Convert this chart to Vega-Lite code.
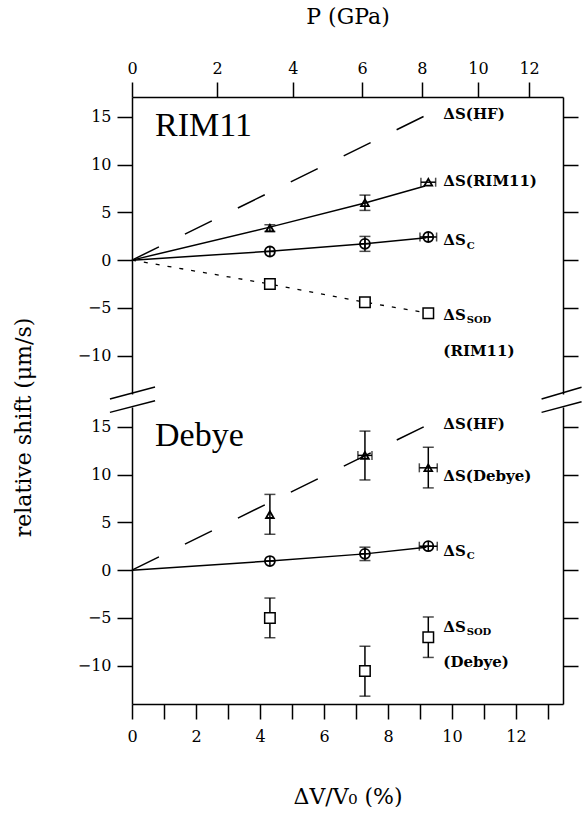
{
  "$schema": "https://vega.github.io/schema/vega-lite/v6.json",
  "autosize": {"type": "pad"},
  "padding": {"left": 12, "top": 5, "right": 0, "bottom": 0},
  "background": "white",
  "spacing": 13,
  "bounds": "flush",
  "config": {
    "view": {"stroke": null},
    "axis": {"grid": false, "domainColor": "black", "domainWidth": 1.5, "tickColor": "black", "tickWidth": 1.5, "tickSize": 15, "labelColor": "black", "labelFont": "DejaVu Serif", "labelFontSize": 16, "labelFlush": false, "labelOverlap": false, "titleFont": "DejaVu Serif", "titleFontSize": 22, "titleFontWeight": "normal", "titleColor": "black"},
    "text": {"font": "DejaVu Serif", "color": "black"}
  },
  "datasets": {
    "lines": [
      {"panel": "RIM11", "id": "hf", "x": 0, "y": 0}, {"panel": "RIM11", "id": "hf", "x": 9.16, "y": 15.1},
      {"panel": "RIM11", "id": "rim", "x": 0, "y": 0}, {"panel": "RIM11", "id": "rim", "x": 4.31, "y": 3.45}, {"panel": "RIM11", "id": "rim", "x": 7.28, "y": 5.98}, {"panel": "RIM11", "id": "rim", "x": 9.16, "y": 7.75},
      {"panel": "RIM11", "id": "c", "x": 0, "y": 0}, {"panel": "RIM11", "id": "c", "x": 4.31, "y": 0.93}, {"panel": "RIM11", "id": "c", "x": 7.28, "y": 1.72}, {"panel": "RIM11", "id": "c", "x": 9.2, "y": 2.35},
      {"panel": "RIM11", "id": "sod", "x": 0, "y": 0}, {"panel": "RIM11", "id": "sod", "x": 4.31, "y": -2.5}, {"panel": "RIM11", "id": "sod", "x": 7.28, "y": -4.4}, {"panel": "RIM11", "id": "sod", "x": 9.26, "y": -5.55},
      {"panel": "Debye", "id": "hf", "x": 0, "y": 0}, {"panel": "Debye", "id": "hf", "x": 9.16, "y": 15.06},
      {"panel": "Debye", "id": "c", "x": 0, "y": 0}, {"panel": "Debye", "id": "c", "x": 4.31, "y": 0.95}, {"panel": "Debye", "id": "c", "x": 7.28, "y": 1.7}, {"panel": "Debye", "id": "c", "x": 9.2, "y": 2.4}
    ],
    "pts": [
      {"panel": "RIM11", "s": "tri", "x": 4.31, "y": 3.35}, {"panel": "RIM11", "s": "tri", "x": 7.28, "y": 6.0}, {"panel": "RIM11", "s": "tri", "x": 9.26, "y": 8.15},
      {"panel": "RIM11", "s": "circ", "x": 4.31, "y": 0.9}, {"panel": "RIM11", "s": "circ", "x": 7.28, "y": 1.7}, {"panel": "RIM11", "s": "circ", "x": 9.26, "y": 2.42},
      {"panel": "RIM11", "s": "sq", "x": 4.31, "y": -2.5}, {"panel": "RIM11", "s": "sq", "x": 7.28, "y": -4.4}, {"panel": "RIM11", "s": "sq", "x": 9.26, "y": -5.55},
      {"panel": "Debye", "s": "tri", "x": 4.31, "y": 5.8}, {"panel": "Debye", "s": "tri", "x": 7.28, "y": 12.0}, {"panel": "Debye", "s": "tri", "x": 9.26, "y": 10.7},
      {"panel": "Debye", "s": "circ", "x": 4.31, "y": 0.95}, {"panel": "Debye", "s": "circ", "x": 7.28, "y": 1.7}, {"panel": "Debye", "s": "circ", "x": 9.26, "y": 2.5},
      {"panel": "Debye", "s": "sq", "x": 4.31, "y": -5.0}, {"panel": "Debye", "s": "sq", "x": 7.28, "y": -10.55}, {"panel": "Debye", "s": "sq", "x": 9.26, "y": -7.02}
    ],
    "verr": [
      {"panel": "RIM11", "x": 4.31, "lo": 3.0, "hi": 3.7},
      {"panel": "RIM11", "x": 7.28, "lo": 5.2, "hi": 6.8},
      {"panel": "RIM11", "x": 7.28, "lo": 0.92, "hi": 2.48},
      {"panel": "Debye", "x": 4.31, "lo": 3.75, "hi": 7.92},
      {"panel": "Debye", "x": 7.28, "lo": 9.43, "hi": 14.54},
      {"panel": "Debye", "x": 9.26, "lo": 8.6, "hi": 12.85},
      {"panel": "Debye", "x": 7.28, "lo": 1.0, "hi": 2.4},
      {"panel": "Debye", "x": 4.31, "lo": -7.07, "hi": -2.92},
      {"panel": "Debye", "x": 7.28, "lo": -13.18, "hi": -7.96},
      {"panel": "Debye", "x": 9.26, "lo": -9.13, "hi": -4.9}
    ],
    "herr": [
      {"panel": "RIM11", "y": 8.15, "lo": 9.03, "hi": 9.49},
      {"panel": "RIM11", "y": 2.42, "lo": 9.0, "hi": 9.52},
      {"panel": "Debye", "y": 12.0, "lo": 7.06, "hi": 7.5},
      {"panel": "Debye", "y": 10.7, "lo": 8.98, "hi": 9.54},
      {"panel": "Debye", "y": 2.5, "lo": 8.98, "hi": 9.54}
    ],
    "labels": [
      {"panel": "RIM11", "kind": "lab", "x": 9.73, "y": 15.24, "t": "ΔS(HF)"},
      {"panel": "RIM11", "kind": "lab", "x": 9.73, "y": 8.25, "t": "ΔS(RIM11)"},
      {"panel": "RIM11", "kind": "lab", "x": 9.73, "y": 2.09, "t": "ΔS"},
      {"panel": "RIM11", "kind": "sub", "x": 10.46, "y": 1.5, "t": "C"},
      {"panel": "RIM11", "kind": "lab", "x": 9.73, "y": -5.74, "t": "ΔS"},
      {"panel": "RIM11", "kind": "sub", "x": 10.46, "y": -6.25, "t": "SOD"},
      {"panel": "RIM11", "kind": "lab", "x": 9.73, "y": -9.47, "t": "(RIM11)"},
      {"panel": "RIM11", "kind": "big", "x": 0.72, "y": 12.95, "t": "RIM11"},
      {"panel": "Debye", "kind": "lab", "x": 9.73, "y": 15.24, "t": "ΔS(HF)"},
      {"panel": "Debye", "kind": "lab", "x": 9.73, "y": 9.85, "t": "ΔS(Debye)"},
      {"panel": "Debye", "kind": "lab", "x": 9.73, "y": 2.02, "t": "ΔS"},
      {"panel": "Debye", "kind": "sub", "x": 10.46, "y": 1.43, "t": "C"},
      {"panel": "Debye", "kind": "lab", "x": 9.73, "y": -5.98, "t": "ΔS"},
      {"panel": "Debye", "kind": "sub", "x": 10.46, "y": -6.49, "t": "SOD"},
      {"panel": "Debye", "kind": "lab", "x": 9.73, "y": -9.57, "t": "(Debye)"},
      {"panel": "Debye", "kind": "big", "x": 0.72, "y": 12.95, "t": "Debye"}
    ],
    "breaks": [
      {"x": -0.69, "y": 17.9, "x2": 0.72, "y2": 19.15},
      {"x": -0.69, "y": 16.5, "x2": 0.72, "y2": 17.72},
      {"x": 12.8, "y": 17.9, "x2": 14.05, "y2": 19.12},
      {"x": 12.8, "y": 16.5, "x2": 14.05, "y2": 17.6}
    ]
  },
  "vconcat": [
    {
      "width": 431,
      "height": 297,
      "resolve": {"axis": {"x": "independent", "y": "independent"}},
      "layer": [
        {
          "data": {"name": "lines"},
          "transform": [{"filter": "datum.panel === 'RIM11' && (datum.id === 'rim' || datum.id === 'c')"}],
          "mark": {"type": "line", "color": "black", "strokeWidth": 1.5},
          "encoding": {
            "x": {"field": "x", "type": "quantitative", "scale": {"domain": [0, 13.47], "nice": false, "zero": false},
                  "axis": {"orient": "top", "values": [0, 2.66, 5.03, 7.19, 9.06, 10.81, 12.41], "labelExpr": "indexof([0, 2.66, 5.03, 7.19, 9.06, 10.81, 12.41], datum.value) * 2", "title": "P (GPa)", "labelPadding": 6, "titlePadding": 32}},
            "y": {"field": "y", "type": "quantitative", "scale": {"domain": [-14, 17.06], "nice": false, "zero": false},
                  "axis": {"orient": "left", "values": [-10, -5, 0, 5, 10, 15], "title": null, "labelPadding": 6}},
            "detail": {"field": "id"}
          }
        },
        {
          "data": {"name": "lines"},
          "transform": [{"filter": "datum.panel === 'RIM11' && datum.id === 'hf'"}],
          "mark": {"type": "line", "color": "black", "strokeWidth": 1.5, "strokeDash": [30, 29]},
          "encoding": {
            "x": {"field": "x", "type": "quantitative", "axis": null},
            "y": {"field": "y", "type": "quantitative", "axis": {"orient": "right", "values": [-10, -5, 0, 5, 10, 15], "labels": false, "title": null}}
          }
        },
        {
          "data": {"name": "lines"},
          "transform": [{"filter": "datum.panel === 'RIM11' && datum.id === 'sod'"}],
          "mark": {"type": "line", "color": "black", "strokeWidth": 1.3, "strokeDash": [4, 8]},
          "encoding": {
            "x": {"field": "x", "type": "quantitative", "axis": null},
            "y": {"field": "y", "type": "quantitative", "axis": null}
          }
        },
        {
          "data": {"name": "verr"},
          "transform": [{"filter": "datum.panel === 'RIM11'"}],
          "mark": {"type": "rule", "color": "black", "strokeWidth": 1.5},
          "encoding": {
            "x": {"field": "x", "type": "quantitative", "axis": null},
            "y": {"field": "lo", "type": "quantitative", "axis": null},
            "y2": {"field": "hi"}
          }
        },
        {
          "data": {"name": "verr"},
          "transform": [{"filter": "datum.panel === 'RIM11'"}],
          "mark": {"type": "tick", "orient": "horizontal", "color": "black", "size": 11, "thickness": 1.5},
          "encoding": {
            "x": {"field": "x", "type": "quantitative", "axis": null},
            "y": {"field": "lo", "type": "quantitative", "axis": null}
          }
        },
        {
          "data": {"name": "verr"},
          "transform": [{"filter": "datum.panel === 'RIM11'"}],
          "mark": {"type": "tick", "orient": "horizontal", "color": "black", "size": 11, "thickness": 1.5},
          "encoding": {
            "x": {"field": "x", "type": "quantitative", "axis": null},
            "y": {"field": "hi", "type": "quantitative", "axis": null}
          }
        },
        {
          "data": {"name": "herr"},
          "transform": [{"filter": "datum.panel === 'RIM11'"}],
          "mark": {"type": "rule", "color": "black", "strokeWidth": 1.5},
          "encoding": {
            "x": {"field": "lo", "type": "quantitative", "axis": null},
            "x2": {"field": "hi"},
            "y": {"field": "y", "type": "quantitative", "axis": null}
          }
        },
        {
          "data": {"name": "herr"},
          "transform": [{"filter": "datum.panel === 'RIM11'"}],
          "mark": {"type": "tick", "orient": "vertical", "color": "black", "size": 9, "thickness": 1.5},
          "encoding": {
            "x": {"field": "lo", "type": "quantitative", "axis": null},
            "y": {"field": "y", "type": "quantitative", "axis": null}
          }
        },
        {
          "data": {"name": "herr"},
          "transform": [{"filter": "datum.panel === 'RIM11'"}],
          "mark": {"type": "tick", "orient": "vertical", "color": "black", "size": 9, "thickness": 1.5},
          "encoding": {
            "x": {"field": "hi", "type": "quantitative", "axis": null},
            "y": {"field": "y", "type": "quantitative", "axis": null}
          }
        },
        {
          "data": {"name": "pts"},
          "transform": [{"filter": "datum.panel === 'RIM11' && datum.s === 'tri'"}],
          "mark": {"type": "point", "shape": "triangle-up", "filled": false, "color": "black", "strokeWidth": 1.8, "size": 60, "opacity": 1},
          "encoding": {
            "x": {"field": "x", "type": "quantitative", "axis": null},
            "y": {"field": "y", "type": "quantitative", "axis": null}
          }
        },
        {
          "data": {"name": "pts"},
          "transform": [{"filter": "datum.panel === 'RIM11' && datum.s === 'circ'"}],
          "mark": {"type": "point", "shape": "circle", "filled": false, "color": "black", "strokeWidth": 1.8, "size": 100, "opacity": 1},
          "encoding": {
            "x": {"field": "x", "type": "quantitative", "axis": null},
            "y": {"field": "y", "type": "quantitative", "axis": null}
          }
        },
        {
          "data": {"name": "pts"},
          "transform": [{"filter": "datum.panel === 'RIM11' && datum.s === 'circ'"}],
          "mark": {"type": "point", "shape": "M-1,0H1M0,-1V1", "filled": false, "color": "black", "strokeWidth": 1.5, "size": 100, "opacity": 1},
          "encoding": {
            "x": {"field": "x", "type": "quantitative", "axis": null},
            "y": {"field": "y", "type": "quantitative", "axis": null}
          }
        },
        {
          "data": {"name": "pts"},
          "transform": [{"filter": "datum.panel === 'RIM11' && datum.s === 'sq'"}],
          "mark": {"type": "point", "shape": "square", "filled": true, "fill": "white", "stroke": "black", "strokeWidth": 1.5, "size": 110, "opacity": 1},
          "encoding": {
            "x": {"field": "x", "type": "quantitative", "axis": null},
            "y": {"field": "y", "type": "quantitative", "axis": null}
          }
        },
        {
          "data": {"name": "labels"},
          "transform": [{"filter": "datum.panel === 'RIM11' && datum.kind === 'lab'"}],
          "mark": {"type": "text", "align": "left", "baseline": "middle", "fontSize": 15, "fontWeight": "bold"},
          "encoding": {
            "x": {"field": "x", "type": "quantitative", "axis": null},
            "y": {"field": "y", "type": "quantitative", "axis": null},
            "text": {"field": "t"}
          }
        },
        {
          "data": {"name": "labels"},
          "transform": [{"filter": "datum.panel === 'RIM11' && datum.kind === 'sub'"}],
          "mark": {"type": "text", "align": "left", "baseline": "middle", "fontSize": 10, "fontWeight": "bold"},
          "encoding": {
            "x": {"field": "x", "type": "quantitative", "axis": null},
            "y": {"field": "y", "type": "quantitative", "axis": null},
            "text": {"field": "t"}
          }
        },
        {
          "data": {"name": "labels"},
          "transform": [{"filter": "datum.panel === 'RIM11' && datum.kind === 'big'"}],
          "mark": {"type": "text", "align": "left", "baseline": "alphabetic", "fontSize": 34, "font": "Liberation Serif"},
          "encoding": {
            "x": {"field": "x", "type": "quantitative", "axis": null},
            "y": {"field": "y", "type": "quantitative", "axis": null},
            "text": {"field": "t"}
          }
        }
      ]
    },
    {
      "width": 431,
      "height": 297,
      "resolve": {"axis": {"x": "independent", "y": "independent"}},
      "layer": [
        {
          "data": {"name": "lines"},
          "transform": [{"filter": "datum.panel === 'Debye' && datum.id === 'c'"}],
          "mark": {"type": "line", "color": "black", "strokeWidth": 1.5},
          "encoding": {
            "x": {"field": "x", "type": "quantitative", "scale": {"domain": [0, 13.47], "nice": false, "zero": false},
                  "axis": {"orient": "bottom", "values": [0, 1, 2, 3, 4, 5, 6, 7, 8, 9, 10, 11, 12, 13], "labelExpr": "datum.value % 2 === 0 ? datum.label : ''", "title": "ΔV/V₀ (%)", "labelPadding": 9, "titlePadding": 42}},
            "y": {"field": "y", "type": "quantitative", "scale": {"domain": [-14, 17.06], "nice": false, "zero": false},
                  "axis": {"orient": "left", "values": [-10, -5, 0, 5, 10, 15], "title": "relative shift (μm/s)", "titleY": 20, "labelPadding": 6, "titlePadding": 42}}
          }
        },
        {
          "data": {"name": "lines"},
          "transform": [{"filter": "datum.panel === 'Debye' && datum.id === 'hf'"}],
          "mark": {"type": "line", "color": "black", "strokeWidth": 1.5, "strokeDash": [30, 29]},
          "encoding": {
            "x": {"field": "x", "type": "quantitative", "axis": null},
            "y": {"field": "y", "type": "quantitative", "axis": {"orient": "right", "values": [-10, -5, 0, 5, 10, 15], "labels": false, "title": null}}
          }
        },
        {
          "data": {"name": "breaks"},
          "mark": {"type": "rule", "color": "black", "strokeWidth": 1.5, "clip": false},
          "encoding": {
            "x": {"field": "x", "type": "quantitative", "axis": null},
            "y": {"field": "y", "type": "quantitative", "axis": null},
            "x2": {"field": "x2"},
            "y2": {"field": "y2"}
          }
        },
        {
          "data": {"name": "verr"},
          "transform": [{"filter": "datum.panel === 'Debye'"}],
          "mark": {"type": "rule", "color": "black", "strokeWidth": 1.5},
          "encoding": {
            "x": {"field": "x", "type": "quantitative", "axis": null},
            "y": {"field": "lo", "type": "quantitative", "axis": null},
            "y2": {"field": "hi"}
          }
        },
        {
          "data": {"name": "verr"},
          "transform": [{"filter": "datum.panel === 'Debye'"}],
          "mark": {"type": "tick", "orient": "horizontal", "color": "black", "size": 11, "thickness": 1.5},
          "encoding": {
            "x": {"field": "x", "type": "quantitative", "axis": null},
            "y": {"field": "lo", "type": "quantitative", "axis": null}
          }
        },
        {
          "data": {"name": "verr"},
          "transform": [{"filter": "datum.panel === 'Debye'"}],
          "mark": {"type": "tick", "orient": "horizontal", "color": "black", "size": 11, "thickness": 1.5},
          "encoding": {
            "x": {"field": "x", "type": "quantitative", "axis": null},
            "y": {"field": "hi", "type": "quantitative", "axis": null}
          }
        },
        {
          "data": {"name": "herr"},
          "transform": [{"filter": "datum.panel === 'Debye'"}],
          "mark": {"type": "rule", "color": "black", "strokeWidth": 1.5},
          "encoding": {
            "x": {"field": "lo", "type": "quantitative", "axis": null},
            "x2": {"field": "hi"},
            "y": {"field": "y", "type": "quantitative", "axis": null}
          }
        },
        {
          "data": {"name": "herr"},
          "transform": [{"filter": "datum.panel === 'Debye'"}],
          "mark": {"type": "tick", "orient": "vertical", "color": "black", "size": 9, "thickness": 1.5},
          "encoding": {
            "x": {"field": "lo", "type": "quantitative", "axis": null},
            "y": {"field": "y", "type": "quantitative", "axis": null}
          }
        },
        {
          "data": {"name": "herr"},
          "transform": [{"filter": "datum.panel === 'Debye'"}],
          "mark": {"type": "tick", "orient": "vertical", "color": "black", "size": 9, "thickness": 1.5},
          "encoding": {
            "x": {"field": "hi", "type": "quantitative", "axis": null},
            "y": {"field": "y", "type": "quantitative", "axis": null}
          }
        },
        {
          "data": {"name": "pts"},
          "transform": [{"filter": "datum.panel === 'Debye' && datum.s === 'tri'"}],
          "mark": {"type": "point", "shape": "triangle-up", "filled": false, "color": "black", "strokeWidth": 1.8, "size": 60, "opacity": 1},
          "encoding": {
            "x": {"field": "x", "type": "quantitative", "axis": null},
            "y": {"field": "y", "type": "quantitative", "axis": null}
          }
        },
        {
          "data": {"name": "pts"},
          "transform": [{"filter": "datum.panel === 'Debye' && datum.s === 'circ'"}],
          "mark": {"type": "point", "shape": "circle", "filled": false, "color": "black", "strokeWidth": 1.8, "size": 100, "opacity": 1},
          "encoding": {
            "x": {"field": "x", "type": "quantitative", "axis": null},
            "y": {"field": "y", "type": "quantitative", "axis": null}
          }
        },
        {
          "data": {"name": "pts"},
          "transform": [{"filter": "datum.panel === 'Debye' && datum.s === 'circ'"}],
          "mark": {"type": "point", "shape": "M-1,0H1M0,-1V1", "filled": false, "color": "black", "strokeWidth": 1.5, "size": 100, "opacity": 1},
          "encoding": {
            "x": {"field": "x", "type": "quantitative", "axis": null},
            "y": {"field": "y", "type": "quantitative", "axis": null}
          }
        },
        {
          "data": {"name": "pts"},
          "transform": [{"filter": "datum.panel === 'Debye' && datum.s === 'sq'"}],
          "mark": {"type": "point", "shape": "square", "filled": true, "fill": "white", "stroke": "black", "strokeWidth": 1.5, "size": 110, "opacity": 1},
          "encoding": {
            "x": {"field": "x", "type": "quantitative", "axis": null},
            "y": {"field": "y", "type": "quantitative", "axis": null}
          }
        },
        {
          "data": {"name": "labels"},
          "transform": [{"filter": "datum.panel === 'Debye' && datum.kind === 'lab'"}],
          "mark": {"type": "text", "align": "left", "baseline": "middle", "fontSize": 15, "fontWeight": "bold"},
          "encoding": {
            "x": {"field": "x", "type": "quantitative", "axis": null},
            "y": {"field": "y", "type": "quantitative", "axis": null},
            "text": {"field": "t"}
          }
        },
        {
          "data": {"name": "labels"},
          "transform": [{"filter": "datum.panel === 'Debye' && datum.kind === 'sub'"}],
          "mark": {"type": "text", "align": "left", "baseline": "middle", "fontSize": 10, "fontWeight": "bold"},
          "encoding": {
            "x": {"field": "x", "type": "quantitative", "axis": null},
            "y": {"field": "y", "type": "quantitative", "axis": null},
            "text": {"field": "t"}
          }
        },
        {
          "data": {"name": "labels"},
          "transform": [{"filter": "datum.panel === 'Debye' && datum.kind === 'big'"}],
          "mark": {"type": "text", "align": "left", "baseline": "alphabetic", "fontSize": 34, "font": "Liberation Serif"},
          "encoding": {
            "x": {"field": "x", "type": "quantitative", "axis": null},
            "y": {"field": "y", "type": "quantitative", "axis": null},
            "text": {"field": "t"}
          }
        }
      ]
    }
  ]
}
